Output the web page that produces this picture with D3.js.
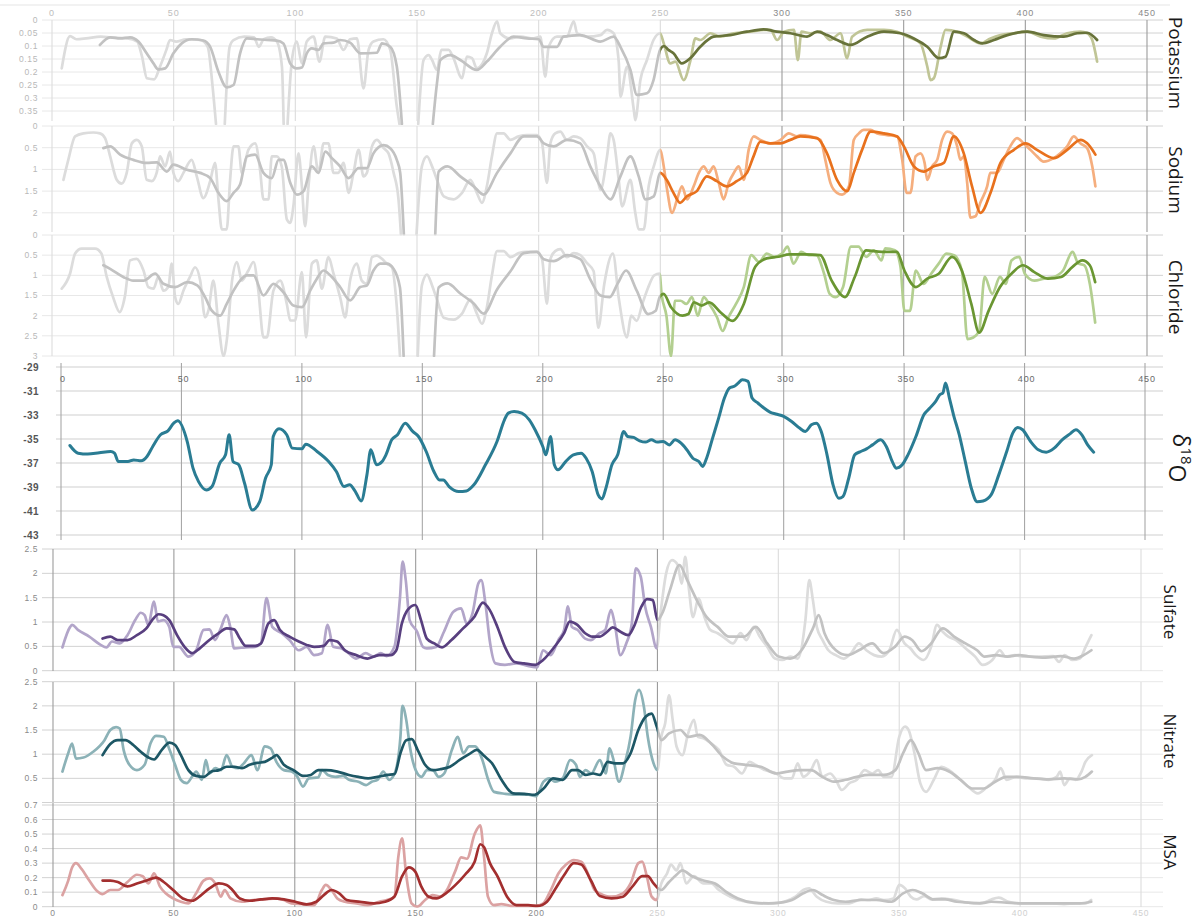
<!DOCTYPE html>
<html>
<head>
<meta charset="utf-8">
<script src="https://cdn.jsdelivr.net/npm/d3@7"></script>
<style>
  body { margin: 0; background: #fff; }
  svg { display: block; }
</style>
</head>
<body>
<svg id="chart" width="1199" height="917"></svg>
<script>
// ---- depth axis ----
const depthTicks = [0, 50, 100, 150, 200, 250, 300, 350, 400, 450];

// ---- value axes ----
const potassiumTicks = [0, 0.05, 0.1, 0.15, 0.2, 0.25, 0.3, 0.35];
const sodiumTicks = [0, 0.5, 1, 1.5, 2];
const chlorideTicks = [0, 0.5, 1, 1.5, 2, 2.5, 3];
const d18OTicks = [-29, -31, -33, -35, -37, -39, -41, -43];
const sulfateTicks = [0, 0.5, 1, 1.5, 2, 2.5];
const nitrateTicks = [0.5, 1, 1.5, 2, 2.5];
const msaTicks = [0, 0.1, 0.2, 0.3, 0.4, 0.5, 0.6, 0.7];

// ---- series: [depth, value]; null marks an off-scale break ----
const potassiumRaw = [[4,0.186],[7.4,0.062],[10,0.074],[14,0.071],[20,0.064],[24,0.067],[31,0.071],[35,0.083],[37,0.141],[39,0.224],[42,0.228],[44.4,0.179],[47,0.115],[48.5,0.077],[51,0.083],[55,0.074],[61,0.077],[64,0.103],[66,0.256],[67.4,0.4],null,[71,0.4],[73,0.103],[74.6,0.077],[79,0.064],[83,0.067],[85,0.103],[87,0.074],[90,0.067],[92.4,0.083],[94.5,0.18],[95.2,0.4],null,[96.8,0.4],[98.6,0.154],[100.6,0.083],[102.7,0.167],[104.7,0.083],[107.5,0.064],[109.9,0.16],[112.3,0.064],[117,0.071],[119.8,0.115],[122.5,0.074],[125.3,0.071],[128,0.263],[130.1,0.115],[132.1,0.083],[136.2,0.074],[139,0.115],[141.7,0.333],[142.8,0.4],null,[150.5,0.4],[152.7,0.154],[154.8,0.135],[156.2,0.154],[158.2,0.192],[160,0.115],[163,0.115],[165,0.147],[168.5,0.224],[170.5,0.141],[172.6,0.147],[174.6,0.186],[178.7,0.128],[180.8,0.051],[182.9,0.005],[184.2,0.051],[188.3,0.071],[192.5,0.064],[197.9,0.071],[200.7,0.064],[202.7,0.218],[204.1,0.103],[207.5,0.064],[211.6,0.064],[214.4,0.005],[215.8,0.051],[219.9,0.064],[225.4,0.058],[228.1,0.038],[230.8,0.051],[232.9,0.16],[233.6,0.295],[236.3,0.18],[239.1,0.346],[239.7,0.385],[241.8,0.231],[244.5,0.154],[247.2,0.077],[249.9,0.051],[251.4,0.09],[254.1,0.167],[256.2,0.16],[259.6,0.231],[262.4,0.154],[264.4,0.071],[266.5,0.077],[270.6,0.051],[274.7,0.064],[280.2,0.051],[287,0.045],[292.5,0.038],[295.3,0.038],[298,0.077],[300.8,0.045],[304.9,0.038],[306.5,0.154],[308,0.045],[311.7,0.051],[315.8,0.045],[319.9,0.077],[324,0.051],[326.8,0.147],[328.8,0.064],[335,0.038],[341.9,0.038],[347.3,0.045],[351.5,0.064],[356.9,0.09],[359.7,0.179],[361,0.231],[362.4,0.224],[365.2,0.103],[367.2,0.038],[372,0.045],[376.1,0.064],[381.6,0.09],[385.7,0.071],[389.8,0.058],[395.3,0.051],[400.8,0.045],[406.3,0.064],[411.7,0.071],[417.2,0.051],[422.7,0.045],[425.4,0.051],[427.5,0.077],[429.5,0.16]];
const potassiumSmooth = [[19.7,0.096],[23.9,0.067],[28,0.071],[32.1,0.067],[35.5,0.083],[38.9,0.128],[41.7,0.167],[43.7,0.19],[46.5,0.186],[49.9,0.128],[53.3,0.09],[57.4,0.074],[62.2,0.079],[65,0.103],[68.4,0.199],[71.8,0.259],[74.6,0.25],[77.3,0.128],[80.1,0.071],[84.2,0.074],[88.3,0.077],[92.4,0.079],[95.1,0.09],[97.9,0.167],[100.6,0.186],[102.7,0.183],[104.7,0.128],[106.8,0.109],[109.5,0.115],[111.6,0.09],[115.7,0.087],[118.4,0.077],[122.5,0.087],[126.7,0.128],[133.5,0.126],[135.6,0.09],[139,0.103],[141.7,0.179],[143.8,0.4],null,[156.5,0.4],[158.2,0.244],[159.6,0.154],[163.7,0.135],[167.8,0.154],[174.6,0.192],[178.7,0.16],[184.2,0.103],[189.7,0.064],[195.2,0.071],[200,0.074],[202,0.103],[207.5,0.103],[210.2,0.064],[217.1,0.058],[225.3,0.083],[230.8,0.064],[233.6,0.103],[237.7,0.192],[240.4,0.288],[244.5,0.282],[247.2,0.231],[249.9,0.115],[251.5,0.1],[253.3,0.115],[255.4,0.128],[258.8,0.167],[262.3,0.147],[266.4,0.103],[271.9,0.064],[278.7,0.058],[285.6,0.045],[292.4,0.036],[297.9,0.045],[303.4,0.051],[310.3,0.064],[314.4,0.045],[318.5,0.058],[322.7,0.077],[328.2,0.096],[335,0.064],[341.9,0.045],[348.7,0.051],[354.2,0.071],[359.7,0.103],[364.5,0.147],[367.2,0.141],[370.7,0.045],[374.8,0.051],[378.9,0.077],[382.3,0.09],[387.1,0.077],[392.6,0.058],[400.8,0.045],[407.6,0.058],[415.8,0.064],[421.3,0.051],[425.4,0.049],[429.5,0.077]];

const sodiumRaw = [[4.7,1.24],[6.7,0.78],[9.5,0.24],[12.9,0.17],[17,0.15],[19.7,0.17],[21.8,0.28],[23.9,0.70],[26.6,1.24],[28.6,1.33],[30.7,1.08],[32.8,0.40],[34.8,0.32],[36.9,0.47],[38.9,1.24],[41,1.27],[43,1.08],[44.4,0.70],[46.5,0.93],[48.5,0.59],[49.9,1.08],[51.9,1.27],[54,1.08],[57.4,0.78],[59.5,1.16],[62.2,1.66],[65,1.27],[67,0.85],[68.4,1.69],[69.8,2.38],[71.8,2.38],[73.2,1.24],[74.6,0.47],[76.6,0.47],[78,1.08],[80.7,0.55],[83.5,0.40],[85.5,1.01],[86.9,1.69],[89,1.69],[90.3,0.70],[92.4,0.70],[94.4,0.93],[96.5,2.15],[97.9,2.23],[99.2,1.85],[101.3,0.63],[102.7,1.39],[104,2.31],[105.4,1.39],[107.5,0.47],[109.5,1.08],[111.6,0.40],[113.6,0.40],[115.7,1.08],[117.7,1.08],[119.8,0.85],[121.9,1.54],[123.9,1.08],[126,0.55],[128,1.16],[129.4,1.08],[131.5,0.47],[133.5,0.32],[136.3,0.51],[138.3,0.63],[140.4,1.08],[142.4,1.69],[143.4,2.5],null,[149.8,2.5],[152,0.93],[154.1,0.70],[156.2,0.93],[158.2,1.24],[161,1.62],[165,1.69],[168.5,1.54],[171.9,1.24],[174.6,1.54],[176.7,1.77],[178.7,1.39],[180.8,0.70],[182.9,0.17],[185.6,0.17],[188.4,0.32],[191.8,0.24],[195.2,0.21],[199.3,0.21],[201.4,0.40],[203.4,1.31],[204.8,0.40],[206.8,0.17],[208.9,0.13],[211.6,0.32],[214.4,0.24],[217.1,0.28],[219.9,0.47],[222.6,0.63],[225.4,1.47],[228.1,0.70],[229.5,0.17],[230.8,0.32],[232.9,1.24],[234.3,1.85],[237.7,1.24],[239.7,2.0],[241.1,2.38],[243.2,2.38],[245.2,1.39],[247.3,0.93],[250,0.55],[251.4,0.93],[252.8,1.47],[254.8,2.0],[256.9,1.69],[258.9,1.39],[261,1.69],[263.7,1.39],[265.8,1.08],[267.8,0.93],[269.9,1.08],[271.9,0.93],[274,1.31],[276,1.69],[278.1,1.31],[280.2,1.08],[282.2,0.93],[284.3,1.24],[286.3,0.55],[288.4,0.24],[291.1,0.32],[295.3,0.40],[299.4,0.32],[302.8,0.17],[306.2,0.24],[307.6,0.21],[311.7,0.24],[315.8,0.32],[317.8,0.78],[319.9,1.31],[322.6,1.54],[324.7,1.58],[327.5,1.39],[329.5,0.32],[331.6,0.17],[333.6,0.09],[336.4,0.09],[339.1,0.17],[343.2,0.21],[347.3,0.24],[349.4,0.78],[351.2,1.54],[352.8,1.54],[354.9,0.70],[356.9,0.63],[358.6,0.85],[359.7,1.24],[361.7,0.93],[363.8,0.78],[365.8,0.32],[367.9,0.13],[369.9,0.17],[372,0.47],[373.3,0.78],[374.7,0.70],[376.1,1.31],[377.4,2.11],[379.5,2.08],[381.5,1.77],[384.3,1.39],[385.6,1.08],[388.4,1.08],[391.1,0.78],[393.8,0.47],[396.6,0.28],[399.3,0.40],[402.1,0.55],[404.8,0.70],[407.5,0.82],[411.7,0.74],[414.4,0.63],[417.2,0.47],[419.9,0.24],[422.6,0.40],[425.4,0.51],[427.5,0.93],[428.8,1.39]];
const sodiumSmooth = [[21.1,0.51],[23.9,0.47],[28,0.66],[33.4,0.78],[38.9,0.85],[43,0.84],[47.2,1.05],[49.9,0.89],[55.4,1.01],[60.9,1.08],[65,1.2],[68.4,1.54],[71.8,1.73],[74.6,1.54],[77.3,1.35],[80.1,0.70],[83.5,0.66],[86.9,1.08],[90.3,1.2],[93.1,0.78],[95.1,0.78],[97.9,1.31],[100.6,1.58],[103.4,1.50],[106.8,0.93],[109.5,1.08],[112.3,0.59],[115,0.74],[118.4,0.93],[121.9,1.2],[126,0.97],[129.4,0.97],[132.1,0.63],[136.3,0.44],[139,0.51],[141.7,0.78],[143.1,1.08],[144.6,2.5],null,[157.5,2.5],[158.9,1.05],[162.5,0.93],[167.8,1.16],[173.3,1.39],[177.4,1.58],[182.9,1.08],[188.4,0.63],[193.9,0.24],[199.3,0.24],[202.1,0.40],[206.2,0.47],[211.6,0.32],[217.1,0.40],[221.2,0.93],[225.4,1.39],[229.5,1.69],[233.6,1.16],[237.7,0.70],[241.1,1.16],[243.9,1.69],[247.3,1.62],[250,1.08],[252.6,1.24],[255.4,1.54],[258.1,1.77],[260.9,1.62],[265,1.50],[269.1,1.16],[273.2,1.27],[277.3,1.39],[281.4,1.27],[285.6,1.08],[288.3,0.70],[291.1,0.36],[295.2,0.40],[299.3,0.40],[303.4,0.32],[307.6,0.24],[314.4,0.28],[318.5,0.63],[322.6,1.24],[326.8,1.50],[329.5,1.08],[332.9,0.55],[336.4,0.13],[341.9,0.17],[347.3,0.24],[350.1,0.47],[354.2,0.93],[358.3,1.05],[362.4,0.93],[366.5,0.85],[370.6,0.24],[374.7,0.63],[378.1,1.39],[381.6,2.0],[385.7,1.54],[389.8,0.85],[395.3,0.55],[400.1,0.40],[404.8,0.55],[411.7,0.74],[417.2,0.55],[422.7,0.32],[425.4,0.40],[428.8,0.66]];

const chlorideRaw = [[4,1.33],[7.4,0.96],[9.5,0.46],[12.2,0.34],[17.7,0.34],[20.3,0.46],[22.5,1.04],[25.1,1.54],[27.8,1.91],[29.9,1.54],[32.1,0.63],[34.8,0.59],[37.6,0.88],[39.6,1.29],[41.7,1.33],[43.7,1.04],[45.8,1.38],[47.8,1.29],[49.2,0.71],[50.6,1.54],[51.9,1.71],[54,1.38],[56.7,1.04],[58.8,0.80],[60.9,1.13],[62.9,2.04],[64.3,1.87],[66.3,1.13],[68.4,2.20],[70.5,3.0],[71.8,2.62],[74,1.13],[76,0.67],[78,1.13],[80.7,0.88],[82.8,0.67],[84.8,1.38],[86.9,2.54],[88.3,2.54],[91,1.38],[93.8,1.13],[96.5,1.71],[97.9,2.12],[99.9,2.12],[102.7,0.92],[104.4,2.54],[106.8,0.71],[108.8,0.63],[110.9,1.33],[113.6,0.55],[115.7,0.96],[118.4,1.54],[120.5,2.04],[122.5,1.13],[125.3,0.71],[127.3,1.13],[129.4,1.21],[131.5,0.55],[133.5,0.51],[135.6,0.59],[137.6,0.71],[139.7,0.80],[141.7,1.79],[143,3.0],null,[150.3,3.0],[152,1.25],[154.1,0.98],[156.2,1.25],[158.2,1.6],[161,2.05],[165,2.1],[168.5,1.95],[171.9,1.6],[174.6,1.95],[176.7,2.2],[178.7,1.8],[180.8,1.0],[182.9,0.4],[185.6,0.4],[188.4,0.55],[191.8,0.45],[195.2,0.42],[199.3,0.42],[201.4,0.6],[203.4,1.7],[204.8,0.6],[206.8,0.4],[208.9,0.35],[211.6,0.55],[214.4,0.45],[217.1,0.5],[219.9,0.7],[222.6,0.9],[224.5,2.3],[227,1.2],[230.5,0.46],[233,1.6],[236.3,2.54],[238,2.0],[240.3,2.13],[242.6,1.71],[245,1.3],[247.5,1.0],[249.7,0.96],[250.5,1.46],[252.5,2.0],[254.4,3.0],[256,1.63],[258.3,1.63],[260.7,1.71],[263,1.54],[265.4,2.0],[267.8,1.54],[270.1,1.71],[273.3,2.04],[275.6,2.38],[278,2.04],[281.1,1.71],[284.3,1.29],[287.4,0.5],[290.6,0.67],[293.7,0.46],[296.8,0.54],[300,0.46],[302.3,0.29],[304.7,0.71],[307.9,0.42],[311,0.5],[314.1,0.5],[317.3,0.96],[319.6,1.46],[322,1.54],[325.1,1.29],[328.3,0.29],[331.4,0.29],[334.6,0.54],[337.7,0.38],[340.9,0.63],[342.4,0.33],[346.4,0.38],[348.7,0.79],[350.3,1.88],[352.6,1.88],[355,0.88],[358.2,1.21],[361.3,0.96],[364.4,0.71],[367.6,0.46],[370.7,0.5],[373.9,0.88],[376.2,2.58],[378.6,2.54],[381,2.38],[383.3,1.04],[386.4,1.46],[389.6,1.04],[391.9,1.21],[394.3,0.63],[397.5,0.54],[399.8,0.96],[403.7,1.13],[407.7,1.08],[411.6,1.04],[415.5,0.88],[419.4,0.42],[421.8,0.71],[424.2,0.75],[426.5,1.21],[428.7,2.17]];
const chlorideSmooth = [[21.1,0.75],[23.9,0.84],[29.3,1.04],[33.4,1.13],[37.6,1.13],[42.4,0.96],[45.8,1.21],[50.6,1.29],[55.6,1.17],[59.7,1.25],[62.9,1.54],[65.6,1.87],[69.1,2.0],[71.8,1.71],[74.6,1.38],[77.3,1.13],[80,1.0],[82.8,1.0],[86.9,1.50],[91,1.21],[95.1,1.42],[99.2,1.75],[102.7,1.79],[106.1,1.38],[108.8,1.09],[111.6,0.88],[114.3,1.0],[118.4,1.29],[122.5,1.62],[126.7,1.29],[129.4,1.25],[132.1,0.88],[134.9,0.71],[137.6,0.71],[140.4,0.84],[143,1.3],[144.5,3.0],null,[157,3.0],[158.9,1.3],[162.5,1.2],[167.8,1.45],[173.3,1.7],[177.4,1.95],[182.9,1.35],[188.4,0.9],[193.9,0.45],[199.3,0.42],[202.1,0.6],[206.2,0.65],[211.6,0.5],[217.1,0.6],[221.2,1.1],[225.4,1.5],[229.2,1.54],[232.5,1.2],[235.9,0.88],[240.3,1.38],[245,1.96],[248.1,1.88],[249.7,1.54],[251.3,1.46],[254.4,1.79],[259.1,2.0],[261.5,1.96],[263.8,1.67],[267,1.75],[270.1,1.67],[274.8,1.92],[279.6,2.13],[284.3,1.71],[289,0.79],[293.7,0.58],[298.4,0.54],[303.1,0.48],[309.4,0.48],[315.7,0.5],[320.4,1.13],[325.9,1.54],[329.9,1.04],[334.6,0.38],[340.9,0.42],[347.2,0.42],[350.3,0.88],[355,1.29],[359.7,1.08],[364.4,0.96],[369.9,0.54],[373.9,0.88],[377.8,1.71],[381,2.42],[384.9,1.88],[389.6,1.29],[394.3,0.96],[399,0.75],[403.7,0.92],[409.2,1.08],[414.7,1.04],[419.4,0.79],[423.4,0.63],[426.5,0.75],[428.7,1.17]];

const d18O = [[3.7,-35.54],[7.1,-36.18],[11.1,-36.26],[15.9,-36.15],[20.6,-36.04],[22.2,-36.18],[23.8,-36.88],[27.8,-36.88],[30.2,-36.74],[33.3,-36.82],[35.7,-36.46],[38.1,-35.62],[41.3,-34.65],[44.4,-34.32],[46.8,-33.68],[48.4,-33.48],[52.4,-35.21],[54.8,-37.43],[57.1,-38.55],[60.3,-39.24],[62.7,-38.96],[65.9,-37.02],[68.3,-36.32],[69.8,-34.65],[71.4,-36.88],[73.8,-37.15],[76.2,-38.69],[79.4,-40.91],[82.5,-40.22],[84.9,-38.27],[87.3,-37.15],[88.1,-34.79],[90.5,-34.15],[93.7,-34.65],[96,-35.76],[100,-35.82],[101.6,-35.43],[106.3,-36.04],[111.1,-36.88],[114.3,-37.71],[117.5,-38.96],[119.8,-38.82],[122.2,-39.38],[124.6,-40.16],[127,-37.99],[128.6,-35.9],[131,-37.15],[133.3,-36.88],[134.9,-36.32],[137.3,-35.07],[139.7,-34.65],[142.9,-33.68],[146,-34.37],[148.4,-34.79],[151.6,-36.04],[154.8,-37.71],[157.1,-38.41],[158.7,-38.41],[161.1,-38.96],[165.1,-39.38],[168.3,-39.33],[171.4,-38.82],[176.2,-37.15],[181,-35.21],[184.1,-33.4],[185.7,-32.84],[188.1,-32.7],[191.3,-32.84],[194.4,-33.4],[196.8,-34.23],[200,-35.62],[201.3,-36.32],[203.2,-34.79],[204.8,-37.15],[206.3,-37.57],[209.5,-36.88],[212.7,-36.32],[215.9,-36.18],[218,-36.6],[220.5,-37.71],[223,-39.66],[224.6,-39.99],[226.2,-39.1],[228.7,-37.15],[231.1,-36.32],[233.6,-34.37],[235.2,-34.79],[237.7,-34.87],[240.2,-35.15],[242.6,-35.26],[245.1,-35.07],[247.5,-35.26],[250,-35.21],[252.5,-35.49],[254.9,-35.07],[257.4,-35.35],[259.8,-35.9],[262.3,-36.6],[264.8,-36.88],[266.4,-37.29],[268,-36.6],[270.5,-34.93],[273,-33.26],[275.4,-31.59],[277.5,-30.75],[279.5,-30.61],[281.1,-30.34],[282.8,-30.06],[285.2,-30.2],[286.9,-31.59],[289.3,-32.0],[291.8,-32.42],[294.3,-32.76],[296.7,-32.92],[300,-33.12],[303.3,-33.54],[306.6,-34.09],[309,-34.37],[311.5,-33.82],[313.6,-33.68],[315.6,-34.37],[318,-36.32],[320.5,-38.82],[322.9,-39.94],[324.6,-39.8],[327,-38.27],[329.5,-36.32],[332,-36.04],[334.4,-35.82],[336.9,-35.49],[340.2,-35.07],[342.6,-35.62],[345.1,-36.88],[346.7,-37.43],[349.2,-37.15],[351.6,-36.32],[354.9,-34.79],[358.2,-32.98],[360.7,-32.42],[363.1,-31.87],[364.8,-31.31],[366.1,-31.17],[367.2,-30.34],[368.8,-31.59],[370.5,-32.98],[372.9,-34.65],[375.4,-36.88],[377.9,-39.1],[380.3,-40.22],[382.8,-40.16],[386.1,-39.66],[389.3,-37.99],[392.6,-36.04],[395.1,-34.51],[397.2,-34.04],[399.2,-34.23],[402.5,-35.21],[405.7,-35.9],[409,-36.1],[412.3,-35.76],[415.6,-35.07],[418.9,-34.57],[421.3,-34.23],[423.8,-34.65],[426.2,-35.49],[428.7,-36.1]];

const sulfateRaw = [[3.9,0.48],[7.1,0.90],[7.9,0.94],[10.3,0.84],[15,0.70],[19.7,0.53],[22.1,0.48],[24.4,0.60],[27.6,0.56],[30.8,0.73],[34,1.04],[36.3,1.19],[37.9,1.14],[39.4,0.94],[41.8,1.42],[43.4,1.01],[45.7,1.04],[48.1,0.90],[49.7,0.49],[52.1,0.49],[56,0.29],[59.2,0.42],[62.3,0.84],[64.7,0.85],[67,0.63],[69.4,0.87],[71.8,1.14],[73.3,0.90],[74.9,0.46],[79.7,0.48],[83.6,0.49],[86,0.56],[88.3,1.49],[90.7,0.90],[94.6,0.77],[97.8,0.63],[101.7,0.42],[104.9,0.49],[108,0.32],[111.2,0.36],[113.6,0.94],[115.9,0.49],[119.1,0.46],[122.2,0.36],[125.4,0.25],[129.3,0.36],[132.5,0.29],[135.6,0.36],[138,0.30],[141.2,0.49],[143.5,1.49],[144.6,2.24],[145.9,1.86],[147.5,1.04],[150.6,0.80],[153,0.49],[154.6,0.46],[158.5,0.49],[161.7,0.80],[165.6,1.21],[168.8,1.28],[171.1,0.97],[173.5,1.18],[175.9,1.79],[177.1,1.86],[179,1.32],[180.6,0.63],[183,0.15],[186.9,0.12],[191.6,0.15],[196.4,0.10],[200.3,0.07],[202.7,0.42],[205.8,0.32],[209,0.63],[211.4,0.84],[213,1.32],[214.6,0.90],[216.9,0.84],[220.1,0.66],[222.4,0.63],[226,0.77],[228.4,0.84],[230.8,1.25],[232.3,0.97],[234.7,0.32],[237.1,0.56],[239.4,0.97],[241,2.10],[243.1,1.93],[244.9,1.32],[247.3,0.90],[249.7,0.46],[251.3,1.18],[253.6,2.0],[256,2.27],[258.4,2.17],[260,1.79],[261.5,2.34],[262.9,1.73],[264.7,1.10],[267,1.49],[269.4,1.11],[271.8,0.84],[274.9,0.77],[278.1,0.66],[281.2,0.56],[284.4,0.77],[286.7,0.63],[289.9,0.90],[292.3,0.70],[295.4,0.49],[298.6,0.25],[301.7,0.22],[304.9,0.29],[308,0.25],[311.2,1.04],[312.8,1.86],[314.3,1.45],[315.9,0.90],[318.3,0.63],[320.7,0.42],[323.8,0.32],[327,0.25],[330.1,0.36],[333.3,0.56],[336.4,0.42],[339.6,0.32],[342.7,0.29],[345.9,0.42],[349,0.84],[352.2,0.56],[354.6,0.46],[356.9,0.32],[360.1,0.22],[363.2,0.49],[365.6,0.94],[368,0.80],[370.3,0.70],[373.5,0.63],[377.4,0.46],[381.4,0.29],[384.5,0.12],[388.5,0.22],[391.6,0.42],[394,0.29],[397.9,0.32],[401.1,0.29],[407.4,0.29],[413.7,0.30],[416.1,0.18],[418.4,0.32],[421.6,0.22],[424.7,0.25],[427.1,0.49],[429.5,0.73]];
const sulfateSmooth = [[20.5,0.66],[23.7,0.70],[26.8,0.63],[30.8,0.63],[34.7,0.73],[38.6,0.87],[41,1.04],[43.7,1.16],[45.7,1.14],[48.1,1.04],[51.3,0.73],[54.4,0.49],[57.6,0.36],[60.7,0.46],[64.7,0.63],[68.6,0.77],[71.8,0.87],[74.9,0.85],[77.3,0.66],[79.7,0.51],[83.6,0.51],[86,0.56],[89.1,0.97],[91.5,1.04],[93.8,0.84],[97.8,0.70],[101.7,0.60],[104.9,0.53],[108,0.49],[112,0.51],[114.4,0.63],[117.5,0.60],[120.7,0.42],[125.4,0.32],[130.1,0.25],[134.9,0.32],[139.6,0.32],[142,0.42],[144.3,0.97],[146.7,1.25],[149.9,1.35],[152.2,1.04],[154.6,0.66],[157.7,0.56],[160.9,0.48],[164.8,0.63],[169.6,0.87],[174.3,1.11],[177.8,1.40],[180.6,1.25],[183.8,0.90],[186.9,0.49],[190.9,0.18],[194.8,0.15],[199.5,0.12],[202.7,0.22],[207.4,0.49],[211.4,0.77],[213.7,1.01],[216.9,0.94],[220.1,0.77],[223.2,0.70],[226,0.70],[229.2,0.80],[231.5,0.89],[234.7,0.80],[237.9,0.73],[240.2,0.90],[243.4,1.32],[245.7,1.47],[248.1,1.45],[250,1.04],[252,1.18],[255.2,1.66],[259.1,2.17],[262.3,1.86],[267,1.38],[270.2,1.11],[274.9,0.90],[279.6,0.70],[285.9,0.70],[290.7,0.90],[295.4,0.56],[300.1,0.29],[304.9,0.25],[309.6,0.42],[314.3,0.87],[316.7,1.14],[319.1,0.77],[323.8,0.42],[328.5,0.32],[333.3,0.42],[338.8,0.56],[343.5,0.36],[348.2,0.49],[352.2,0.70],[355.3,0.63],[359.3,0.40],[363.2,0.56],[368,0.87],[372.7,0.70],[377.4,0.56],[382.2,0.42],[385.3,0.29],[390,0.32],[394.8,0.29],[399.5,0.32],[404.2,0.29],[410.5,0.27],[416.8,0.30],[422.3,0.25],[426.3,0.32],[429.5,0.42]];

const nitrateRaw = [[3.9,0.64],[6.3,1.02],[7.9,1.22],[9.5,0.91],[12.6,0.93],[16.6,1.05],[21.3,1.29],[23.7,1.50],[26.1,1.56],[27.6,1.53],[29.2,1.09],[31.6,0.78],[34.7,0.67],[37.9,0.78],[40.3,1.22],[42.6,1.38],[45.8,1.36],[48.2,1.09],[50.5,0.78],[52.9,0.47],[55.3,0.40],[57.6,0.54],[59.2,0.64],[61.6,0.47],[63.2,0.88],[64.7,0.60],[67.1,0.71],[69.5,0.67],[71.8,0.98],[74.2,0.74],[76.6,0.71],[78.9,0.81],[82.1,0.98],[84.5,0.67],[87.6,1.16],[90,1.12],[92.4,0.84],[95.5,0.67],[98.7,0.64],[101.1,0.53],[103.4,0.33],[105.8,0.50],[109.7,0.52],[111.3,0.67],[113.7,0.57],[116.8,0.53],[120,0.55],[122.4,0.47],[126.3,0.43],[129.5,0.36],[131.8,0.43],[134.2,0.47],[136.6,0.64],[139,0.47],[141.3,0.60],[143.7,1.36],[144.5,2.0],[146.1,1.71],[147.6,1.16],[150,0.67],[152.4,0.53],[154.7,0.67],[157.1,0.67],[159.5,0.53],[161.8,0.60],[165,1.09],[167.4,1.36],[169.7,1.02],[172.1,1.16],[174.5,1.16],[177.6,0.88],[180,0.47],[182.4,0.22],[187.1,0.18],[191.8,0.16],[196.6,0.16],[199.7,0.13],[202.9,0.43],[205.3,0.50],[207.6,0.43],[210.8,0.50],[213.9,0.88],[216.3,0.78],[217.9,0.53],[220.3,0.67],[222.6,0.60],[226.2,0.88],[228.6,0.60],[230.2,1.12],[231.7,0.91],[234.1,0.43],[236.5,0.81],[238.9,1.36],[240.8,2.12],[242.4,2.33],[244.4,1.98],[246,1.36],[248.4,0.81],[250,0.67],[251.6,1.36],[253.2,1.64],[254.8,2.22],[256.3,1.71],[257.9,1.16],[260.3,0.98],[262.7,1.43],[265.1,1.71],[266.7,1.36],[269,1.33],[272.2,1.22],[275.4,1.09],[278.6,0.78],[281.7,0.74],[284.9,0.60],[288.1,0.84],[290.5,0.78],[294.4,0.67],[299.2,0.60],[302.4,0.50],[305.6,0.50],[308,0.81],[310.3,0.53],[313.5,0.67],[315.9,0.88],[318.2,0.53],[321.4,0.60],[323.8,0.47],[326.2,0.26],[329.4,0.40],[332.5,0.47],[335.7,0.67],[338.9,0.60],[341.3,0.67],[343.6,0.53],[346.8,0.53],[350,1.36],[352.4,1.57],[353.9,1.50],[356.3,1.02],[358.7,0.40],[361.1,0.22],[364.3,0.47],[367.4,0.74],[370.6,0.67],[374.6,0.50],[378.5,0.33],[382.5,0.19],[386.5,0.33],[389.7,0.47],[392,0.71],[394.4,0.47],[398.4,0.53],[402.4,0.50],[407.1,0.50],[411.9,0.47],[415.1,0.53],[416.6,0.64],[418.2,0.36],[420.6,0.50],[423,0.47],[425.4,0.64],[427,0.84],[429.7,0.98]];
const nitrateSmooth = [[20.5,0.98],[23.7,1.21],[26.8,1.29],[30,1.29],[33.2,1.19],[36.3,1.05],[39.5,0.93],[41.8,0.89],[45,1.09],[48.2,1.24],[50.5,1.19],[52.9,0.98],[56,0.67],[59.2,0.55],[62.4,0.53],[65.5,0.64],[68.7,0.67],[71.8,0.74],[75,0.74],[78.2,0.71],[81.3,0.78],[84.5,0.82],[87.6,0.84],[90.8,0.93],[92.4,0.98],[95.5,0.78],[99.5,0.67],[103.4,0.55],[106.6,0.57],[109.7,0.67],[112.9,0.67],[117.6,0.64],[122.4,0.57],[126.3,0.53],[130.3,0.50],[134.2,0.53],[138.2,0.57],[141.3,0.59],[143.7,1.02],[146.1,1.29],[148.4,1.31],[150.8,1.09],[153.9,0.78],[157.1,0.67],[160.3,0.69],[164.2,0.74],[168.2,0.88],[172.1,1.00],[175.3,1.09],[178.4,0.96],[181.6,0.81],[185.5,0.47],[190.3,0.19],[195,0.18],[199.2,0.16],[202.9,0.29],[206.8,0.50],[210.8,0.47],[214.7,0.67],[217.1,0.67],[220.3,0.57],[223.4,0.60],[226.2,0.57],[229.4,0.84],[232.5,0.81],[235.7,0.81],[238.9,1.02],[242.1,1.50],[245.2,1.78],[247.6,1.84],[249.7,1.57],[251.6,1.29],[254.8,1.43],[259.5,1.50],[262.7,1.36],[267.5,1.40],[272.2,1.22],[277,0.95],[281.7,0.81],[286.5,0.78],[292.8,0.74],[299.2,0.60],[303.9,0.64],[308.7,0.67],[313.5,0.67],[318.2,0.53],[323,0.43],[327.8,0.47],[332.5,0.53],[337.3,0.57],[343.6,0.57],[348.4,0.67],[351.6,1.02],[354.8,1.29],[357.9,1.02],[361.1,0.67],[365.9,0.71],[370.6,0.64],[375.4,0.47],[380.1,0.29],[384.9,0.29],[389.7,0.43],[394.4,0.53],[399.2,0.53],[405.5,0.50],[411.9,0.48],[418.2,0.50],[423.8,0.48],[427,0.53],[429.7,0.64]];

const msaRaw = [[3.9,0.08],[6.3,0.18],[7.9,0.27],[9.5,0.30],[11.8,0.26],[15,0.18],[18.1,0.11],[20.5,0.087],[23.7,0.115],[26.8,0.115],[30.8,0.17],[34.7,0.22],[37.1,0.21],[39.5,0.16],[41.8,0.23],[44.2,0.14],[46.6,0.092],[49.7,0.057],[52.9,0.034],[56,0.023],[59.2,0.092],[62.3,0.18],[64.7,0.195],[67.1,0.16],[69.4,0.069],[71,0.115],[73.4,0.057],[78.1,0.034],[82.8,0.046],[87.6,0.05],[92.3,0.057],[95.5,0.046],[98.6,0.023],[103.4,0.018],[108.1,0.011],[111.2,0.115],[112.8,0.15],[115.2,0.115],[117.6,0.057],[120.7,0.034],[125.5,0.023],[130.2,0.011],[134.9,0.034],[138.1,0.046],[141.2,0.069],[142.8,0.34],[144.4,0.47],[146,0.23],[148.3,0.023],[150.7,0.0],[153.9,0.046],[157,0.08],[160.2,0.069],[163.3,0.126],[166.5,0.25],[168.8,0.34],[171.2,0.33],[174.4,0.50],[176.7,0.56],[178.3,0.34],[179.9,0.069],[182.3,0.011],[185.4,0.018],[190.1,0.005],[194.9,0.005],[199.6,0.005],[202.8,0.023],[205.9,0.115],[209.1,0.23],[212.2,0.29],[215.4,0.32],[218.5,0.31],[221.7,0.21],[224,0.115],[226.2,0.092],[231,0.069],[235.7,0.092],[238.9,0.16],[242.1,0.30],[243.7,0.31],[245.6,0.21],[247.6,0.069],[249.7,0.046],[251.6,0.16],[254,0.23],[255.6,0.29],[257.9,0.25],[259.5,0.30],[261.9,0.16],[265.1,0.21],[269,0.16],[272.2,0.16],[275.4,0.115],[280.2,0.069],[286.5,0.034],[292.8,0.023],[297.6,0.023],[302.4,0.034],[307.1,0.069],[310.3,0.115],[312.7,0.126],[315.9,0.069],[319.9,0.034],[324.6,0.023],[329.4,0.023],[334.2,0.05],[337.3,0.046],[340.5,0.057],[343.7,0.046],[347.6,0.057],[350,0.15],[352.4,0.126],[354.8,0.069],[357.1,0.05],[360.3,0.073],[363.5,0.05],[367.5,0.057],[371.4,0.05],[376.2,0.034],[380.9,0.023],[384.9,0.028],[388.1,0.05],[391.2,0.062],[395.2,0.034],[400,0.023],[405.5,0.023],[411.9,0.023],[418.2,0.018],[423,0.023],[427,0.023],[429.4,0.046]];
const msaSmooth = [[20.5,0.18],[23.7,0.18],[26.8,0.17],[30.8,0.14],[34.7,0.16],[38.7,0.18],[42.6,0.20],[45.8,0.17],[49.7,0.115],[53.7,0.057],[57.6,0.041],[60.8,0.073],[64.7,0.126],[68.6,0.16],[71.8,0.15],[74.2,0.115],[77.3,0.057],[81.3,0.041],[86,0.05],[90.7,0.057],[95.5,0.05],[100.2,0.034],[104.9,0.016],[108.9,0.034],[112,0.08],[115.2,0.115],[118.4,0.092],[121.5,0.046],[127,0.034],[132.6,0.023],[137.3,0.034],[141.2,0.069],[144.4,0.21],[147.2,0.27],[149.9,0.24],[152.3,0.14],[155.4,0.069],[158.6,0.057],[162.5,0.092],[166.5,0.15],[170.4,0.22],[174.4,0.31],[176.7,0.43],[178.3,0.41],[180.7,0.30],[183.8,0.21],[187.8,0.069],[191.7,0.011],[196.5,0.011],[200.4,0.005],[204.3,0.034],[207.5,0.115],[211.5,0.22],[215.4,0.30],[218.5,0.29],[222.5,0.18],[226.2,0.073],[231,0.057],[235.7,0.069],[239.7,0.14],[243.7,0.21],[246,0.21],[248.4,0.16],[250.3,0.126],[251.6,0.115],[254.8,0.17],[257.9,0.22],[260.3,0.25],[264.3,0.21],[269,0.18],[273.8,0.16],[278.6,0.10],[283.3,0.057],[289.7,0.028],[296,0.023],[300.8,0.028],[305.6,0.046],[310.3,0.092],[314.3,0.115],[318.3,0.08],[323,0.046],[327.8,0.034],[334.2,0.046],[340.5,0.046],[346.8,0.034],[351.6,0.092],[355.6,0.115],[359.5,0.092],[364.3,0.05],[369,0.05],[373.8,0.034],[378.5,0.028],[383.3,0.023],[388.1,0.034],[394.4,0.028],[400.8,0.023],[408.7,0.023],[416.6,0.023],[424.6,0.023],[429.4,0.034]];

// ---- drawing ----
const svg = d3.select('#chart');
const defs = svg.append('defs');
const SPLIT = 250;              // depth where highlighted and greyed halves meet
const GREY_RAW = '#dcdcdc';
const GREY_SMOOTH = '#c2c2c2';
const FONT = '"Open Sans", "Noto Sans", sans-serif';
const TICK_FONT = '"Liberation Sans", "DejaVu Sans", sans-serif';

// faint rule along the very top
svg.append('line').attr('x1', 0).attr('x2', 1170).attr('y1', 5).attr('y2', 5)
  .attr('stroke', '#e6e6e6').attr('stroke-width', 1.2);

const stacked = [
  { id: 'k', title: 'Potassium', raw: potassiumRaw, smooth: potassiumSmooth, ticks: potassiumTicks, grid: potassiumTicks,
    domain: [0, 0.4], range: [20, 124], vSpan: [20, 121], xRange: [52, 1147], colourSide: 'right',
    rawColour: '#c0c596', smoothColour: '#68733a', titleX: 1176, titleY: 63, titleSize: 19,
    labelFill: '#b8b8b8', labelSize: 8.5 },
  { id: 'na', title: 'Sodium', raw: sodiumRaw, smooth: sodiumSmooth, ticks: sodiumTicks, grid: sodiumTicks,
    domain: [0, 2.5], range: [126, 234.5], vSpan: [126, 232], xRange: [52, 1147], colourSide: 'right',
    rawColour: '#f5ae7e', smoothColour: '#e8711d', titleX: 1176, titleY: 180, titleSize: 19,
    labelFill: '#b8b8b8', labelSize: 8.5 },
  { id: 'cl', title: 'Chloride', raw: chlorideRaw, smooth: chlorideSmooth, ticks: chlorideTicks, grid: chlorideTicks,
    domain: [0, 3], range: [235, 356], vSpan: [235, 356], xRange: [52, 1147], colourSide: 'right',
    rawColour: '#b3cf90', smoothColour: '#6a9632', titleX: 1176, titleY: 297, titleSize: 19,
    labelFill: '#b8b8b8', labelSize: 8.5 },
  { id: 'so4', title: 'Sulfate', raw: sulfateRaw, smooth: sulfateSmooth, ticks: sulfateTicks, grid: sulfateTicks,
    domain: [0, 2.5], range: [670.7, 549], vSpan: [549, 671], xRange: [53, 1141], colourSide: 'left',
    rawColour: '#b2a5c9', smoothColour: '#583f7f', titleX: 1170, titleY: 612, titleSize: 17,
    labelFill: '#8a8a8a', labelSize: 8.5 },
  { id: 'no3', title: 'Nitrate', raw: nitrateRaw, smooth: nitrateSmooth, ticks: nitrateTicks, grid: [0].concat(nitrateTicks),
    domain: [0, 2.5], range: [802.5, 681.7], vSpan: [682, 802], xRange: [53, 1141], colourSide: 'left',
    rawColour: '#8cb2b7', smoothColour: '#1d5765', titleX: 1170, titleY: 741, titleSize: 17,
    labelFill: '#8a8a8a', labelSize: 8.5 },
  { id: 'msa', title: 'MSA', raw: msaRaw, smooth: msaSmooth, ticks: msaTicks, grid: msaTicks,
    domain: [0, 0.7], range: [906.7, 805], vSpan: [803, 907], xRange: [53, 1141], colourSide: 'left',
    rawColour: '#dba2a2', smoothColour: '#a32f2f', titleX: 1170, titleY: 852, titleSize: 17,
    labelFill: '#8a8a8a', labelSize: 8.5 }
];

function lineGen(x, y) {
  return d3.line()
    .defined(d => d !== null)
    .x(d => x(d[0]))
    .y(d => y(d[1]))
    .curve(d3.curveMonotoneX);
}

function tickText(v) {
  return d3.format('~g')(v);
}

function drawStacked(p) {
  const x = d3.scaleLinear().domain([0, 450]).range(p.xRange);
  const y = d3.scaleLinear().domain(p.domain).range(p.range);
  const g = svg.append('g').attr('class', 'panel-' + p.id);
  const splitX = x(SPLIT);
  const colourRight = p.colourSide === 'right';
  const gridX0 = 42, gridX1 = 1163;

  // horizontal grid, lighter over the greyed half
  const hLeft = colourRight ? '#e8e8e8' : '#d2d2d2';
  const hRight = colourRight ? '#d2d2d2' : '#e8e8e8';
  g.selectAll(null).data(p.grid).join('line')
    .attr('x1', gridX0).attr('x2', splitX).attr('y1', d => y(d)).attr('y2', d => y(d))
    .attr('stroke', hLeft).attr('stroke-width', 1);
  g.selectAll(null).data(p.grid).join('line')
    .attr('x1', splitX).attr('x2', gridX1).attr('y1', d => y(d)).attr('y2', d => y(d))
    .attr('stroke', hRight).attr('stroke-width', 1);

  // vertical grid
  g.selectAll(null).data(depthTicks).join('line')
    .attr('x1', d => x(d)).attr('x2', d => x(d))
    .attr('y1', p.vSpan[0]).attr('y2', p.vSpan[1])
    .attr('stroke', d => {
      const highlighted = colourRight ? d > SPLIT : d <= SPLIT;
      return highlighted ? '#9c9c9c' : '#dcdcdc';
    })
    .attr('stroke-width', 1.1);

  // value labels
  g.selectAll(null).data(p.ticks).join('text')
    .attr('x', 38).attr('y', d => y(d)).attr('dy', '0.35em')
    .attr('text-anchor', 'end')
    .attr('font-family', TICK_FONT).attr('font-size', p.labelSize)
    .attr('letter-spacing', 0.6)
    .attr('fill', p.labelFill)
    .text(tickText);

  // clip regions for the two halves
  const top = Math.min(...p.range) - 2, bottom = Math.max(...p.range) + 1;
  const leftClip = `clip-${p.id}-l`, rightClip = `clip-${p.id}-r`;
  defs.append('clipPath').attr('id', leftClip).append('rect')
    .attr('x', 0).attr('y', top).attr('width', splitX).attr('height', bottom - top);
  defs.append('clipPath').attr('id', rightClip).append('rect')
    .attr('x', splitX).attr('y', top).attr('width', 1199 - splitX).attr('height', bottom - top);

  const greyClip = colourRight ? leftClip : rightClip;
  const colourClip = colourRight ? rightClip : leftClip;
  const line = lineGen(x, y);

  const layers = [
    { data: p.raw, stroke: GREY_RAW, clip: greyClip, w: 2.7 },
    { data: p.smooth, stroke: GREY_SMOOTH, clip: greyClip, w: 2.7 },
    { data: p.raw, stroke: p.rawColour, clip: colourClip, w: 2.7 },
    { data: p.smooth, stroke: p.smoothColour, clip: colourClip, w: 2.7 }
  ];
  layers.forEach(l => {
    g.append('path').datum(l.data)
      .attr('fill', 'none').attr('stroke', l.stroke).attr('stroke-width', l.w)
      .attr('stroke-linejoin', 'round').attr('stroke-linecap', 'round')
      .attr('clip-path', `url(#${l.clip})`)
      .attr('d', line);
  });

  // panel title, rotated
  g.append('text')
    .attr('transform', `translate(${p.titleX},${p.titleY}) rotate(90)`)
    .attr('text-anchor', 'middle').attr('dy', '0.35em')
    .attr('font-family', FONT).attr('font-size', p.titleSize).attr('fill', '#1a1a1a')
    .text(p.title);
}

stacked.forEach(drawStacked);

// depth labels along the top
{
  const x = d3.scaleLinear().domain([0, 450]).range([52, 1147]);
  svg.append('g').selectAll('text').data(depthTicks).join('text')
    .attr('x', d => x(d)).attr('y', 16)
    .attr('text-anchor', 'middle')
    .attr('font-family', TICK_FONT).attr('font-size', 9).attr('letter-spacing', 0.8)
    .attr('fill', d => d > SPLIT ? '#8a8a8a' : '#bdbdbd')
    .text(d => d);
}

// depth labels along the bottom
{
  const x = d3.scaleLinear().domain([0, 450]).range([53, 1141]);
  svg.append('g').selectAll('text').data(depthTicks).join('text')
    .attr('x', d => x(d)).attr('y', 915.5)
    .attr('text-anchor', 'middle')
    .attr('font-family', TICK_FONT).attr('font-size', 8.5).attr('letter-spacing', 0.8)
    .attr('fill', d => d < SPLIT ? '#8a8a8a' : '#cfcfcf')
    .text(d => d);
}

// ---- δ18O panel ----
{
  const x = d3.scaleLinear().domain([0, 450]).range([61, 1145]);
  const y = d3.scaleLinear().domain([-29, -43]).range([367, 535]);
  const g = svg.append('g').attr('class', 'panel-d18o');

  g.selectAll(null).data(d18OTicks).join('line')
    .attr('x1', 56).attr('x2', 1163).attr('y1', d => y(d)).attr('y2', d => y(d))
    .attr('stroke', '#d0d0d0').attr('stroke-width', 1.1);
  g.selectAll(null).data(depthTicks).join('line')
    .attr('x1', d => x(d)).attr('x2', d => x(d)).attr('y1', 363).attr('y2', 540)
    .attr('stroke', '#a8a8a8').attr('stroke-width', 1.1);

  g.selectAll(null).data(d18OTicks).join('text')
    .attr('x', 39).attr('y', d => y(d)).attr('dy', '0.35em')
    .attr('text-anchor', 'end')
    .attr('font-family', TICK_FONT).attr('font-size', 10).attr('font-weight', 'bold')
    .attr('letter-spacing', 0.4).attr('fill', '#555')
    .text(d => d);

  g.selectAll(null).data(depthTicks).join('text')
    .attr('x', d => x(d) + 2).attr('y', 382)
    .attr('text-anchor', 'middle')
    .attr('font-family', TICK_FONT).attr('font-size', 9).attr('letter-spacing', 0.8)
    .attr('fill', '#6a6a6a')
    .text(d => d);

  g.append('path').datum(d18O)
    .attr('fill', 'none').attr('stroke', '#2a7c93').attr('stroke-width', 3)
    .attr('stroke-linejoin', 'round').attr('stroke-linecap', 'round')
    .attr('d', lineGen(x, y));

  const t = g.append('text')
    .attr('transform', 'translate(1181,458) rotate(90)')
    .attr('text-anchor', 'middle').attr('dy', '0.35em')
    .attr('font-family', FONT).attr('font-size', 23).attr('fill', '#1a1a1a');
  t.append('tspan').text('δ');
  t.append('tspan').attr('font-size', 15).attr('dy', '-0.55em').text('18');
  t.append('tspan').attr('dy', '0.55em').text('O');
}
</script>
</body>
</html>
